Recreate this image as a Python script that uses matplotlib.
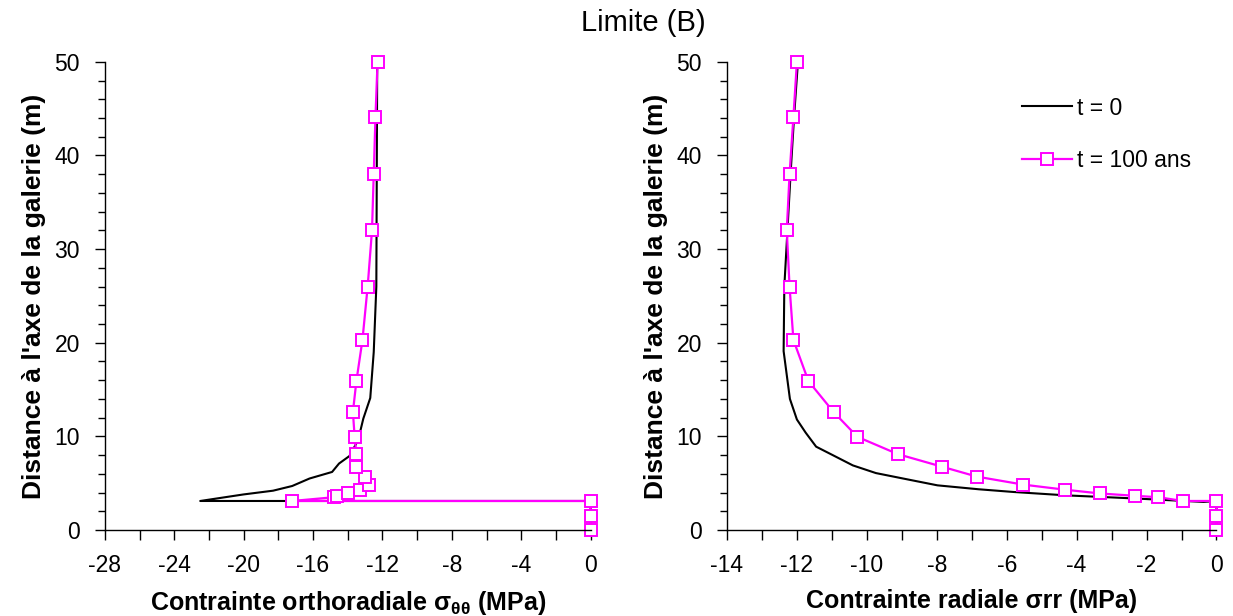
import matplotlib
matplotlib.use("Agg")
import matplotlib.pyplot as plt
from matplotlib.ticker import MultipleLocator, FuncFormatter

plt.rcParams['font.family'] = ['Liberation Sans', 'DejaVu Sans']
plt.rcParams['mathtext.fontset'] = 'custom'
plt.rcParams['mathtext.rm'] = 'Liberation Sans'
plt.rcParams['mathtext.it'] = 'Liberation Sans:italic'
plt.rcParams['mathtext.bf'] = 'Liberation Sans:bold'

# distance to gallery axis (m)
r_t0_tt = [0, 3.1, 3.1, 3.8, 4.2, 4.7, 5.5, 6.2, 7.1, 7.9, 9.6, 11.9, 14.1, 19.0, 26.0, 50.0]
s_tt_t0 = [0, 0, -22.5, -20.0, -18.3, -17.2, -16.2, -14.9, -14.5, -13.9, -13.4, -13.1, -12.7, -12.5, -12.35, -12.3]

r_t100 = [0, 1.5, 3.1, 3.1, 3.5, 3.65, 3.9, 4.3, 4.85, 5.7, 6.75, 8.1, 9.95, 12.6, 15.9,
          20.3, 26.0, 32.0, 38.0, 44.1, 50.0]
s_tt_t100 = [0, 0, 0, -17.2, -14.8, -14.6, -14.0, -13.3, -12.8, -13.0, -13.5, -13.5, -13.6,
             -13.7, -13.5, -13.15, -12.85, -12.6, -12.5, -12.4, -12.28]

r_t0_rr = [0, 3.1, 3.0, 3.36, 3.7, 4.06, 4.35, 4.77, 5.4, 6.08, 6.9, 7.95, 8.9, 10.4, 11.8,
           14.0, 19.1, 26.0, 32.05, 38.1, 44.2, 50.0]
s_rr_t0 = [0, 0, -0.37, -2.29, -4.3, -5.8, -6.8, -7.98, -8.83, -9.74, -10.4, -10.95, -11.45,
           -11.75, -12.0, -12.2, -12.38, -12.36, -12.27, -12.18, -12.08, -11.97]
s_rr_t100 = [0, 0, 0, -0.96, -1.66, -2.32, -3.32, -4.32, -5.53, -6.85, -7.84, -9.11, -10.27,
             -10.95, -11.67, -12.1, -12.21, -12.29, -12.21, -12.1, -12.0]

MAG = '#FF00FF'

fig = plt.figure(figsize=(12.33, 6.16), dpi=100)
ax1 = fig.add_axes([0.0850, 0.1396, 0.394, 0.760])
ax2 = fig.add_axes([0.5896, 0.1396, 0.397, 0.760])

ax1.plot(s_tt_t0, r_t0_tt, color='black', lw=1.5, label='t = 0')
ax1.plot(s_tt_t100, r_t100, color=MAG, lw=1.6, marker='s', ms=8, mfc='white',
         mec=MAG, mew=1.4, label='t = 100 ans')
ax2.plot(s_rr_t0, r_t0_rr, color='black', lw=1.5, label='t = 0')
ax2.plot(s_rr_t100, r_t100, color=MAG, lw=1.6, marker='s', ms=8, mfc='white',
         mec=MAG, mew=1.4, label='t = 100 ans')

ax1.set_xlim(-28, 0)
ax2.set_xlim(-14, 0)
ax1.xaxis.set_major_locator(MultipleLocator(4))
ax1.xaxis.set_minor_locator(MultipleLocator(2))
ax2.xaxis.set_major_locator(MultipleLocator(2))
ax2.xaxis.set_minor_locator(MultipleLocator(1))
fmt = FuncFormatter(lambda v, p: '%d' % round(v))

for ax in (ax1, ax2):
    ax.set_ylim(0, 50)
    ax.yaxis.set_major_locator(MultipleLocator(10))
    ax.yaxis.set_minor_locator(MultipleLocator(2))
    ax.xaxis.set_major_formatter(fmt)
    ax.spines['top'].set_visible(False)
    ax.spines['right'].set_visible(False)
    ax.tick_params(axis='both', which='major', direction='out', width=1, labelsize=16.5)
    ax.tick_params(axis='y', which='major', length=7, pad=11)
    ax.tick_params(axis='y', which='minor', direction='out', length=5, width=1)
    ax.tick_params(axis='x', which='major', length=7, pad=10)
    ax.tick_params(axis='x', which='minor', direction='out', length=7, width=1)
    ax.set_ylabel("Distance à l'axe de la galerie (m)", fontsize=19, fontweight='bold',
                  labelpad=6)
    for s in ax.spines.values():
        s.set_linewidth(1)
    for ln in ax.lines:
        ln.set_clip_on(False)

ax1.set_xlabel(r'Contrainte orthoradiale σ$_{\mathbf{θθ}}$ (MPa)',
               fontsize=18, fontweight='bold', labelpad=9)
ax2.set_xlabel('Contrainte radiale σrr (MPa)', fontsize=18, fontweight='bold',
               labelpad=9)

ax2.legend(loc='upper right', bbox_to_anchor=(0.99, 0.97), frameon=False, fontsize=16.5,
           handlelength=2.2, handletextpad=0.2, labelspacing=1.3)

fig.text(0.522, 0.962, 'Limite (B)', ha='center', va='center', fontsize=21)

fig.savefig('out.png', dpi=100)
